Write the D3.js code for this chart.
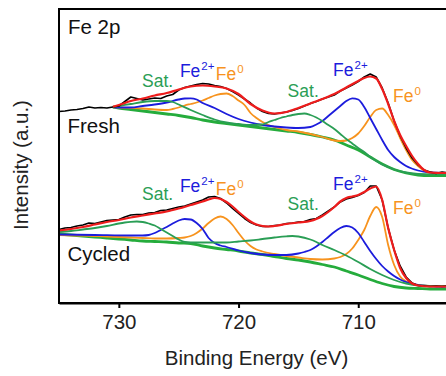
<!DOCTYPE html>
<html>
<head>
<meta charset="utf-8">
<script src="https://cdn.jsdelivr.net/npm/d3@7"></script>
<style>
  html, body { margin: 0; padding: 0; background: #fff; }
  svg { display: block; }
  text { font-family: Arial, "Liberation Sans", Helvetica, sans-serif; }
</style>
</head>
<body>
<svg id="chart" width="446" height="376"></svg>
<script>
// Fe 2p XPS spectra, fresh vs cycled. Each series is [binding energy (eV), intensity (a.u.)].

// ---------- Fresh ----------
const freshData = [
  [735,191.5],[734.5,192],[734,193],[733.5,193.5],[733,194.5],[732.5,196],[732,195],[731.5,195.5],
  [731,195],[730.5,196],[730,197],[729.5,201.5],[729,206],[728.5,204.5],[728,203],[727.5,204],
  [727,205],[726.5,204.5],[726,207],[725.5,208.5],[725,213],[724.5,215.5],[724,217],[723.5,218.5],
  [723,219.5],[722.5,219],[722,217.5],[721.5,216.5],[721,214.5],[720.5,211.5],[720,208],[719.5,204],
  [719,200],[718.5,195],[718,191.5],[717.5,189.5],[717,189],[716.5,190],[716,191],[715.5,192.5],
  [715,194.5],[714.5,197],[714,199.5],[713.5,201.5],[713,204],[712.5,206],[712,208],[711.5,212],
  [711,215],[710.5,218],[710,221.5],[709.5,226],[709,229],[708.5,226],[708,215],[707.5,200],
  [707,182],[706.5,167],[706,155],[705.5,145],[705,138],[704.5,133],[704,131],[703.5,129.5],
  [703,131],[702.5,130],[702,130.5]
];
const freshFit = [
  [730.5,196.3],[730,198],[729,202],[728,204.5],[727,207.5],[726,210],[725,213.5],[724,216.5],
  [723,217.5],[722,216.5],[721,214.5],[720,209],[719,199],[718,192.5],[717,189.5],[716,191],
  [715,195],[714,199.5],[713,204],[712,209],[711,215.5],[710,222],[709.5,225],[709,226.5],
  [708.5,224.5],[708,214],[707.5,199],[707,182],[706.5,168],[706,157],[705.5,147],[705,139],
  [704.5,133],[704,130.5],[703,130],[702,130]
];
const freshFe2 = [
  [730.5,196],[730,195.5],[729,195.5],[728,197],[727,198.5],[726,200.5],[725,203.5],[724.5,204.5],
  [724,204.7],[723.5,203.5],[723,200],[722,195],[721,189],[720,184],[719,180.5],[718,178],
  [717,176.5],[716,175.5],[715,175],[714,176],[713.5,178.5],[713,182],[712.5,187],[712,192],
  [711.5,197],[711,202],[710.5,204.7],[710,203.5],[709.5,196],[709,185],[708.5,174],[708,163],
  [707.5,153],[707,146],[706.5,141],[706,137],[705,132.5],[704,130.5],[703,130],[702,130]
];
const freshFe0 = [
  [730.5,196],[730,195.5],[729,195],[728,194.5],[727,193.5],[726,193],[725.5,194],[725,195.5],
  [724.5,197.5],[724,199],[723.5,200.5],[723,202.5],[722.5,205],[722,207.5],[721.5,209],[721,209.5],
  [720.5,207],[720,202.5],[719.5,198],[719,190],[718.5,185],[718,181],[717.5,178],[717,176],
  [716,173],[715,171.5],[714,169],[713,166],[712,162.5],[711.5,162],[711,162.5],[710.5,165],
  [710,169.5],[709.5,177],[709,186],[708.5,193],[708,194.5],[707.5,188],[707,178],[706.5,165],
  [706,153],[705.5,143],[705,137],[704.5,132.5],[704,130.5],[703,129.5],[702,129.5]
];
const freshSat = [
  [730.5,196],[730,197],[729,199],[728,201],[727,202],[726,202],[725.5,201],[725,198.5],
  [724,193],[723,188],[722,183.5],[721,180.5],[720,179],[719,178],[718,178.5],[717.5,181],
  [717,183],[716.5,185],[716,186.5],[715.5,188],[715,189],[714.5,189.5],[714,188],[713.5,185.5],
  [713,182],[712.5,178],[712,174],[711.5,169],[711,164],[710.5,159.5],[710,155],[709.5,151],
  [709,146],[708.5,142],[708,138.5],[707.5,136],[707,133.5],[706,130.5],[705,129],[704,128.5],
  [703,128.5],[702,128.5]
];
const freshBackground = [
  [730.5,196],[730,195],[729,193.5],[728,192],[727,190.5],[726,189],[725,187.5],[724,185.5],
  [723,183],[722,181],[721,179.5],[720,178],[719,176.5],[718,175],[717,173.5],[716,172],
  [715,170.5],[714,168.5],[713,166],[712,163],[711,158],[710,153],[709,146],[708,139],
  [707,133.5],[706,130],[705,128],[704,127.5],[703,127.5],[702,127.5]
];

// ---------- Cycled ----------
const cycledData = [
  [735,73.5],[734.5,75],[734,75.5],[733.5,77],[733,78],[732.5,80],[732,79.5],[731.5,81],
  [731,82.5],[730.5,83],[730,83.5],[729.5,86],[729,88],[728.5,88.5],[728,88.5],[727.5,90],
  [727,90.5],[726.5,92.5],[726,93],[725.5,94.5],[725,96],[724.5,97],[724,99],[723.5,101],
  [723,103],[722.5,106],[722,106.5],[721.5,104.5],[721,100],[720.5,94.5],[720,89.5],[719.5,84.5],
  [719,80.5],[718.5,78],[718,76.5],[717.5,76.5],[717,77.5],[716.5,78],[716,79.5],[715.5,80],
  [715,81],[714.5,81.5],[714,83.5],[713.5,84.5],[713,88],[712.5,92],[712,96],[711.5,101],
  [711,104],[710.5,105.5],[710,107.5],[709.5,110.5],[709,117],[708.5,117],[708,103],[707.5,75],
  [707,53],[706.5,37],[706,26],[705.5,20],[705,17.5],[704.5,17],[704,16.5],[703.5,17],
  [703,16.5],[702.5,17],[702,16.5]
];
const cycledFit = [
  [735,72.5],[734,74],[733,76],[732,78.5],[731,81],[730,83],[729,85.5],[728,87.5],
  [727,89.5],[726,91.5],[725,94.5],[724,98],[723,101.5],[722.5,103.5],[722,105],[721.5,104],
  [721,101],[720.5,96.5],[720,91],[719.5,86],[719,81.5],[718.5,78.5],[718,77],[717.5,76.5],
  [717,77],[716,79],[715,80.5],[714,82],[713.5,84],[713,87],[712,96],[711.5,101.5],
  [711,105],[710.5,106.5],[710,108],[709.5,111],[709,114.5],[708.5,116.5],[708,103],[707.5,75],
  [707,53],[706.5,35],[706,25],[705.5,19.5],[705,17.5],[704,16.5],[703,16.5],[702,16.5]
];
const cycledFe2 = [
  [735,68.5],[732,68],[729,67.5],[728,67.5],[727.5,68],[727,70],[726.5,73],[726,76],
  [725.5,79.5],[725,82.5],[724.5,84],[724,83.5],[723.5,80],[723,74],[722.5,65],[722,60],
  [721.5,57.5],[721,56],[720,52.5],[719,50],[718,48.5],[717,48],[716,48],[715,49.5],
  [714.5,51],[714,53],[713.5,56.5],[713,61],[712.5,66],[712,71],[711.5,75],[711,77],
  [710.5,75.5],[710,70],[709.5,61],[709,52],[708.5,44],[708,37],[707.5,31.5],[707,27],
  [706.5,23.5],[706,21],[705,18],[704,17],[703,16.5],[702,16.5]
];
const cycledFe0 = [
  [735,68],[733,67.5],[731,66.5],[729,65.5],[728,65],[727,64.5],[726,64.5],[725,65],
  [724.5,65.5],[724,67],[723.5,70],[723,74.5],[722.5,80],[722,84.5],[721.5,86.5],[721,84],
  [720.5,78],[720,70],[719.5,62.5],[719,57],[718.5,53.5],[718,51.5],[717,49],[716,47],
  [715,45.5],[714,44],[713,43.5],[712,44.5],[711.5,46],[711,49],[710.5,54.5],[710,63],
  [709.5,73],[709,87],[708.5,96],[708,86],[707.5,58],[707,38],[706.5,26.5],[706,21.5],
  [705.5,19],[705,18],[704,17],[703,16.5],[702,16.5]
];
const cycledSat = [
  [735,71],[734,72],[733,73.5],[732,75],[731,77],[730,79.5],[729.5,80.5],[729,81.2],
  [728.5,81.5],[728,81],[727.5,79.5],[727,77.5],[726.5,74],[726,70.5],[725.5,67],[725,63.5],
  [724.5,61],[724,60.5],[723,60.5],[722,60.5],[721,60.5],[720,61.5],[719,62.5],[718,64],
  [717,65.5],[716,66.7],[715.5,67],[715,66.5],[714,63.5],[713.5,61],[713,58],[712,53],
  [711,47.5],[710,41],[709,34],[708,28],[707,23],[706,19.5],[705,17.5],[704,17],
  [703,17],[702,17]
];
const cycledBackground = [
  [735,69],[734,68],[733,67],[732,66],[731,65],[730,64],[729,63],[728,62],
  [727,61.5],[726,61],[725,60],[724,59.5],[723,57],[722,55],[721,53.5],[720,52],
  [719,50],[718,48.5],[717,46.5],[716,44.5],[715,43],[714,41],[713,38.5],[712,36],
  [711,32],[710,28],[709,23.5],[708,19.5],[707,16.5],[706,15],[705,14.5],[704,14],
  [703,14],[702,14]
];

// Axis settings
const energyDomain = [735, 702];
const intensityDomain = [0, 294];
const energyTicks = [730, 720, 710];

// Peak annotations: [energy, intensity, label, superscript, colour key]
const annotations = [
  [728.06, 216, "Sat.", "", "sat"],
  [724.9, 226, "Fe", "2+", "fe2"],
  [721.9, 223, "Fe", "0", "fe0"],
  [715.9, 206, "Sat.", "", "sat"],
  [712.1, 227, "Fe", "2+", "fe2"],
  [707.1, 201.3, "Fe", "0", "fe0"],
  [728.06, 103, "Sat.", "", "sat"],
  [724.9, 111, "Fe", "2+", "fe2"],
  [721.9, 108, "Fe", "0", "fe0"],
  [715.9, 93, "Sat.", "", "sat"],
  [712.1, 113, "Fe", "2+", "fe2"],
  [707.1, 89, "Fe", "0", "fe0"]
];
const sampleLabels = [[734.3, 170, "Fresh"], [734.3, 42, "Cycled"]];

const colors = {
  data: "#000000",
  fit: "#ee1c1c",
  fe2: "#1c1cdc",
  fe0: "#f7931e",
  sat: "#2a9e55",
  background: "#25ac3c"
};

const svg = d3.select("#chart");
const margin = { left: 59, right: -8, top: 9, bottom: 73 };
const W = 446, H = 376;

const x = d3.scaleLinear().domain(energyDomain).range([margin.left, W - margin.right]);
const y = d3.scaleLinear().domain(intensityDomain).range([H - margin.bottom, margin.top]);

const line = d3.line().x(d => x(d[0])).y(d => y(d[1])).curve(d3.curveMonotoneX);
const rawLine = d3.line().x(d => x(d[0])).y(d => y(d[1])).curve(d3.curveLinear);

const plot = svg.append("g");

function drawSet(bg, fe0, fe2, sat, data, fit) {
  plot.append("path").datum(bg).attr("d", line)
    .attr("fill", "none").attr("stroke", colors.background).attr("stroke-width", 2.8);
  plot.append("path").datum(fe0).attr("d", line)
    .attr("fill", "none").attr("stroke", colors.fe0).attr("stroke-width", 1.8);
  plot.append("path").datum(fe2).attr("d", line)
    .attr("fill", "none").attr("stroke", colors.fe2).attr("stroke-width", 1.8);
  plot.append("path").datum(sat).attr("d", line)
    .attr("fill", "none").attr("stroke", colors.sat).attr("stroke-width", 1.8);
  plot.append("path").datum(data).attr("d", rawLine)
    .attr("fill", "none").attr("stroke", colors.data).attr("stroke-width", 1.6)
    .attr("stroke-linejoin", "round");
  plot.append("path").datum(fit).attr("d", line)
    .attr("fill", "none").attr("stroke", colors.fit).attr("stroke-width", 2.2);
}

drawSet(freshBackground, freshFe0, freshFe2, freshSat, freshData, freshFit);
drawSet(cycledBackground, cycledFe0, cycledFe2, cycledSat, cycledData, cycledFit);

// Frame
svg.append("rect")
  .attr("x", margin.left).attr("y", margin.top)
  .attr("width", x(energyDomain[1]) - margin.left)
  .attr("height", y(0) - margin.top)
  .attr("fill", "none").attr("stroke", "#000").attr("stroke-width", 2);

// Bottom axis
const xAxis = d3.axisBottom(x).tickValues(energyTicks).tickSize(5).tickSizeOuter(0).tickPadding(6)
  .tickFormat(d3.format("d"));
const gx = svg.append("g").attr("transform", `translate(0,${y(0)})`).call(xAxis);
gx.select(".domain").attr("stroke-width", 2);
gx.selectAll(".tick line").attr("stroke-width", 2);
gx.selectAll(".tick text").attr("font-size", 20.5).attr("fill", "#222")
  .style("font-family", "Arial, 'Liberation Sans', sans-serif");

// Axis titles
svg.append("text")
  .attr("x", (margin.left + x(energyDomain[1])) / 2).attr("y", 365)
  .attr("text-anchor", "middle").attr("font-size", 20.5).attr("fill", "#222")
  .text("Binding Energy (eV)");
svg.append("text")
  .attr("transform", "translate(28,165) rotate(-90)")
  .attr("text-anchor", "middle").attr("font-size", 20.5).attr("fill", "#222")
  .text("Intensity (a.u.)");

// Panel title and sample names
svg.append("text").attr("x", 68).attr("y", 34)
  .attr("font-size", 20.5).attr("fill", "#111").text("Fe 2p");
sampleLabels.forEach(([e, v, t]) => {
  svg.append("text").attr("x", x(e)).attr("y", y(v))
    .attr("font-size", 20.5).attr("fill", "#111").text(t);
});

// Peak labels
annotations.forEach(([e, v, t, sup, key]) => {
  const txt = svg.append("text").attr("x", x(e)).attr("y", y(v))
    .attr("font-size", 17.5).attr("fill", colors[key]);
  txt.append("tspan").text(t);
  if (sup) {
    txt.append("tspan").attr("font-size", 11.5).attr("dy", -7).attr("dx", 1).text(sup);
  }
});
</script>
</body>
</html>
